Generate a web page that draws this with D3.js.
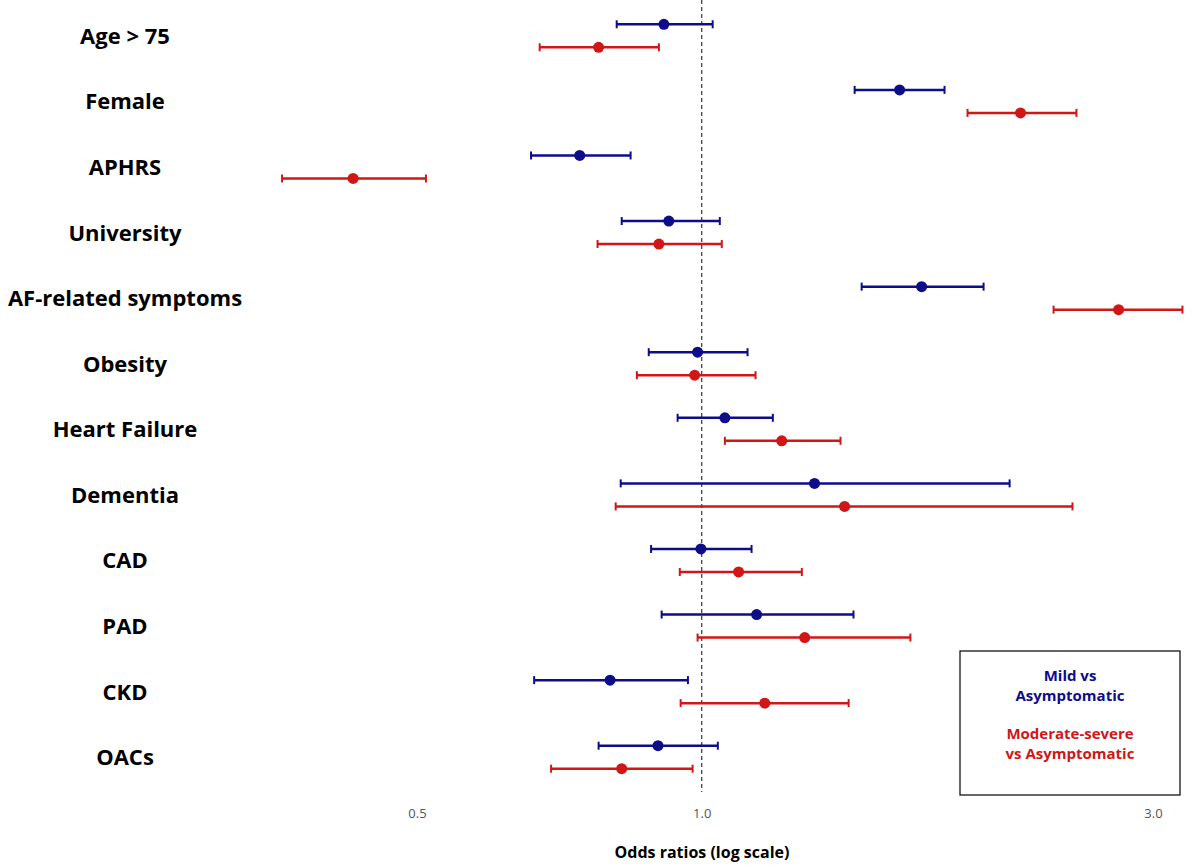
<!DOCTYPE html>
<html><head><meta charset="utf-8">
<script src="https://cdn.jsdelivr.net/npm/d3@7"></script>
<style>body{margin:0;background:#fff}</style>
</head><body><div id="chart"></div>
<script>
const categories = ["Age > 75","Female","APHRS","University","AF-related symptoms","Obesity","Heart Failure","Dementia","CAD","PAD","CKD","OACs"];
// [OR, lower, upper]
const mild = [[0.912,0.813,1.027],[1.619,1.451,1.806],[0.743,0.660,0.841],[0.923,0.823,1.045],[1.708,1.476,1.986],[0.990,0.879,1.118],[1.058,0.943,1.189],[1.316,0.821,2.116],[0.998,0.884,1.129],[1.143,0.907,1.447],[0.800,0.665,0.967],[0.899,0.778,1.040]];
const modsev = [[0.778,0.674,0.901],[2.173,1.910,2.490],[0.428,0.360,0.511],[0.901,0.776,1.050],[2.759,2.355,3.223],[0.983,0.854,1.140],[1.215,1.058,1.402],[1.416,0.811,2.466],[1.094,0.948,1.276],[1.285,0.990,1.662],[1.166,0.950,1.430],[0.823,0.693,0.978]];
const xTicks = [0.5, 1.0, 3.0];

const W = 1200, H = 867;
const blue = "#0d0d8a", red = "#d01616";
const svg = d3.select("#chart").append("svg").attr("width", W).attr("height", H)
    .style("font-family", "'Open Sans', 'Noto Sans', sans-serif");

const x = d3.scaleLog().domain([0.5, 3]).range([417, 1153]);
const y = d3.scaleBand().domain(categories).range([3, 790]);

svg.append("line").attr("x1", x(1)).attr("x2", x(1)).attr("y1", 0).attr("y2", 792)
    .attr("stroke", "#333").attr("stroke-dasharray", "4,3").attr("stroke-width", 1.2);

svg.append("g").selectAll("text").data(categories).join("text")
    .attr("x", 125).attr("y", d => y(d) + y.bandwidth() / 2 + 8)
    .attr("text-anchor", "middle").attr("font-size", 22).attr("font-weight", "bold")
    .text(d => d);

function drawSeries(data, color, dy) {
    const g = svg.append("g").attr("stroke", color).attr("fill", color);
    data.forEach((d, i) => {
        const cy = y(categories[i]) + y.bandwidth() / 2 + dy;
        g.append("line").attr("x1", x(d[1])).attr("x2", x(d[2])).attr("y1", cy).attr("y2", cy).attr("stroke-width", 2.5);
        [d[1], d[2]].forEach(v => g.append("line").attr("x1", x(v)).attr("x2", x(v))
            .attr("y1", cy - 4).attr("y2", cy + 4).attr("stroke-width", 2));
        g.append("circle").attr("cx", x(d[0])).attr("cy", cy).attr("r", 5.5).attr("stroke", "none");
    });
}
drawSeries(mild, blue, -11.5);
drawSeries(modsev, red, 11.5);

const ax = svg.append("g").attr("transform", "translate(0,815)")
    .call(d3.axisBottom(x).tickValues(xTicks).tickFormat(d3.format(".1f")).tickSize(0));
ax.select(".domain").remove();
ax.selectAll("text").attr("font-size", 13).attr("fill", "#555").attr("dy", 0)
    .style("font-family", "'Open Sans', sans-serif");

svg.append("text").attr("x", 702).attr("y", 858).attr("text-anchor", "middle")
    .attr("font-size", 16).attr("font-weight", "bold").text("Odds ratios (log scale)");

const lg = svg.append("g");
lg.append("rect").attr("x", 960).attr("y", 651).attr("width", 220).attr("height", 144)
    .attr("fill", "#fff").attr("stroke", "#000").attr("stroke-width", 1.2);
[["Mild vs", 681, blue], ["Asymptomatic", 701, blue], ["Moderate-severe", 739, red], ["vs Asymptomatic", 759, red]]
    .forEach(([t, ty, c]) => lg.append("text").attr("x", 1070).attr("y", ty).attr("text-anchor", "middle")
        .attr("font-size", 15).attr("font-weight", "bold").attr("fill", c).text(t));
</script></body></html>
